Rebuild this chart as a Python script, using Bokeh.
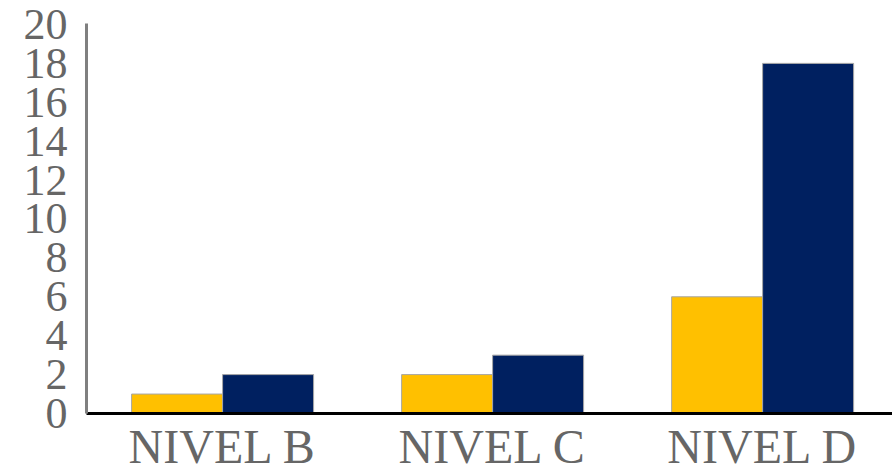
from bokeh.plotting import figure
from bokeh.models import FixedTicker, Range1d
from bokeh.embed import file_html
from bokeh.resources import INLINE

categories = ["NIVEL B", "NIVEL C", "NIVEL D"]
serie_amarilla = [1, 2, 6]
serie_azul = [2, 3, 18]
y_ticks = [0, 2, 4, 6, 8, 10, 12, 14, 16, 18, 20]

xpos = list(range(len(categories)))
bar_w = 0.337
off = bar_w / 2

p = figure(width=892, height=475, output_backend="svg", toolbar_location=None,
           x_range=Range1d(-0.504, 2.481), y_range=Range1d(0, 20.05),
           min_border_left=86, min_border_right=0, min_border_top=23, min_border_bottom=0)
p.outline_line_color = None
p.xgrid.grid_line_color = None
p.ygrid.grid_line_color = None

p.vbar(x=[x - off for x in xpos], top=serie_amarilla, width=bar_w, bottom=0,
       fill_color="#FFC000", line_color="#A6A6A6", line_width=1)
p.vbar(x=[x + off for x in xpos], top=serie_azul, width=bar_w, bottom=0,
       fill_color="#002060", line_color="#A6A6A6", line_width=1)

font = "Liberation Serif"
p.xaxis.ticker = FixedTicker(ticks=xpos)
p.xaxis.major_label_overrides = {i: c for i, c in enumerate(categories)}
p.xaxis.major_tick_line_color = None
p.xaxis.minor_tick_line_color = None
p.xaxis.axis_line_color = "black"
p.xaxis.axis_line_width = 3
p.xaxis.major_label_text_font = font
p.xaxis.major_label_text_font_size = "48px"
p.xaxis.major_label_text_color = "#666666"
p.xaxis.major_label_standoff = 0

p.yaxis.ticker = FixedTicker(ticks=y_ticks)
p.yaxis.major_tick_line_color = None
p.yaxis.minor_tick_line_color = None
p.yaxis.axis_line_color = "#808080"
p.yaxis.axis_line_width = 3
p.yaxis.major_label_text_font = font
p.yaxis.major_label_text_font_size = "44px"
p.yaxis.major_label_text_color = "#666666"
p.yaxis.major_label_standoff = 13

open("out.html", "w").write(file_html(p, INLINE))
